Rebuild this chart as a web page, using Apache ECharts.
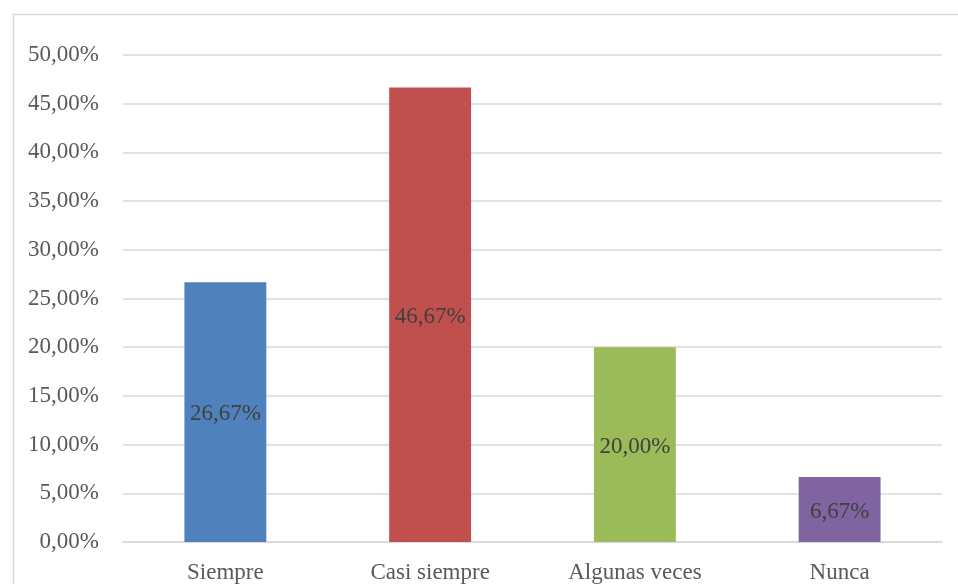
<!DOCTYPE html>
<html>
<head>
<meta charset="utf-8">
<script src="https://cdn.jsdelivr.net/npm/echarts@6/dist/echarts.min.js"></script>
<style>html,body{margin:0;padding:0;background:#fff;}#c{width:958px;height:584px;}</style>
</head>
<body>
<div id="c"></div>
<script>
const categories = ['Siempre', 'Casi siempre', 'Algunas veces', 'Nunca'];
const values = [26.67, 46.67, 20.00, 6.67];
const colors = ['#4F81BD', '#C0504D', '#9BBB59', '#8064A2'];

function fmt(v) { return v.toFixed(2).replace('.', ',') + '%'; }

const chart = echarts.init(document.getElementById('c'), null, { renderer: 'canvas' });
chart.setOption({
  animation: false,
  backgroundColor: '#fff',
  textStyle: { fontFamily: '"Liberation Serif", "Times New Roman", serif' },
  graphic: [{
    type: 'rect', left: 11, top: 12, shape: { width: 960, height: 600 },
    style: { fill: 'none', stroke: '#D9D9D9', lineWidth: 1.5 }, silent: true, z: -1
  }],
  grid: { left: 123, right: 16, top: 55, bottom: 41, containLabel: false },
  xAxis: {
    type: 'category', data: categories,
    axisLine: { show: true, lineStyle: { color: '#D9D9D9', width: 1.5 } },
    axisTick: { show: false },
    axisLabel: { color: '#595959', fontSize: 23, margin: 19, fontFamily: '"Liberation Serif", serif' }
  },
  yAxis: {
    type: 'value', min: 0, max: 50, interval: 5,
    axisLine: { show: false }, axisTick: { show: false },
    splitLine: { lineStyle: { color: '#D9D9D9', width: 1.5 } },
    axisLabel: { color: '#595959', fontSize: 23, margin: 24, fontFamily: '"Liberation Serif", serif', formatter: v => fmt(v) }
  },
  series: [{
    type: 'bar',
    data: values.map((v, i) => ({ value: v, itemStyle: { color: colors[i] } })),
    barCategoryGap: '60%',
    label: { show: true, position: 'inside', offset: [0, 2], color: '#404040', fontSize: 23, fontFamily: '"Liberation Serif", serif', formatter: p => fmt(p.value) }
  }]
});
</script>
</body>
</html>
